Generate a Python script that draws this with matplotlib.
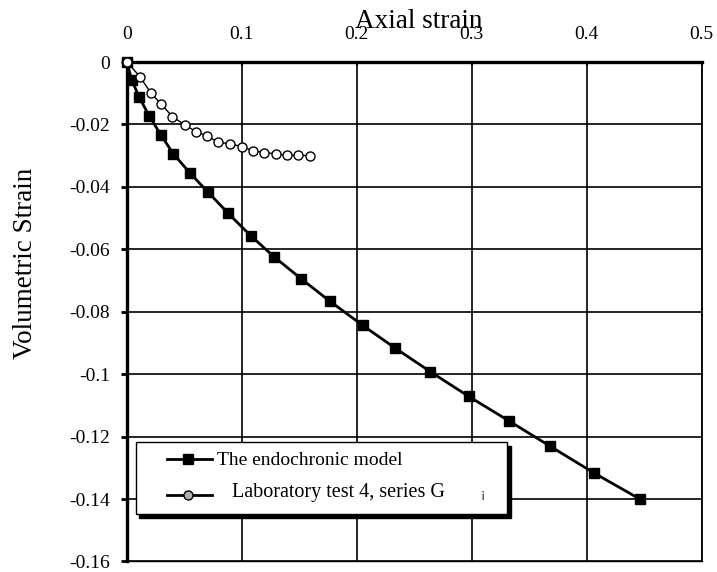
import matplotlib.pyplot as plt
from matplotlib.patches import Rectangle
from matplotlib.lines import Line2D

plt.rcParams['font.family'] = ['Liberation Serif', 'DejaVu Serif']

# endochronic model prediction
model_x = [0.0, 0.0041, 0.0107, 0.0192, 0.0296, 0.0403, 0.0549, 0.0708, 0.0882,
           0.1078, 0.1280, 0.1518, 0.1768, 0.2053, 0.2332, 0.2640, 0.2973,
           0.3321, 0.3679, 0.4062, 0.4463]
model_y = [0.0, -0.0058, -0.0113, -0.0172, -0.0234, -0.0294, -0.0356, -0.0418,
           -0.0485, -0.0557, -0.0624, -0.0695, -0.0767, -0.0844, -0.0916,
           -0.0992, -0.1071, -0.1149, -0.1230, -0.1316, -0.1400]

# laboratory test 4, series G
lab_x = [0.0, 0.0113, 0.0209, 0.0296, 0.0395, 0.0505, 0.0601, 0.0694, 0.0795,
         0.0897, 0.0999, 0.1095, 0.1193, 0.1295, 0.1396, 0.1492, 0.1594]
lab_y = [0.0, -0.0047, -0.0100, -0.0134, -0.0175, -0.0202, -0.0223, -0.0237,
         -0.0257, -0.0262, -0.0271, -0.0284, -0.0290, -0.0294, -0.0299,
         -0.0299, -0.0300]

xticks = [0, 0.1, 0.2, 0.3, 0.4, 0.5]
xtick_labels = ['0', '0.1', '0.2', '0.3', '0.4', '0.5']
yticks = [0, -0.02, -0.04, -0.06, -0.08, -0.1, -0.12, -0.14, -0.16]
ytick_labels = ['0', '-0.02', '-0.04', '-0.06', '-0.08', '-0.1', '-0.12', '-0.14', '-0.16']

fig = plt.figure(figsize=(7.17, 5.72), dpi=100)
ax = fig.add_axes([0.1771, 0.0184, 0.8013, 0.8732])

ax.plot(model_x, model_y, 'k-', lw=2.0, marker='s', ms=6.5, mfc='k', mec='k',
        clip_on=False, zorder=3)
ax.plot(lab_x, lab_y, 'k-', lw=1.0, marker='o', ms=6.5, mfc='white', mec='k',
        mew=1.0, clip_on=False, zorder=4)

ax.set_xlim(0, 0.5)
ax.set_ylim(-0.16, 0)
ax.set_xticks(xticks)
ax.set_xticklabels(xtick_labels)
ax.set_yticks(yticks)
ax.set_yticklabels(ytick_labels)

ax.xaxis.tick_top()
ax.tick_params(axis='x', direction='in', length=3, width=1.5, pad=14, labelsize=14)
ax.tick_params(axis='y', direction='out', length=4, width=2, pad=8, labelsize=14)
ax.grid(True, color='k', lw=1.2)
ax.set_axisbelow(True)

ax.spines['top'].set_linewidth(2.4)
ax.spines['left'].set_linewidth(2.4)
ax.spines['right'].set_linewidth(1.3)
ax.spines['bottom'].set_linewidth(1.0)

fig.text(0.5845, 0.951, 'Axial strain', fontsize=19.5, ha='center', va='baseline')
fig.text(0.036, 0.54, 'Volumetric Strain', fontsize=19.5, rotation=90,
         ha='center', va='center')

# boxed legend with a drop shadow
leg = fig.add_axes([0.1897, 0.1014, 0.5181, 0.1264], zorder=5)
leg.set_xlim(0, 1)
leg.set_ylim(0, 1)
leg.axis('off')
leg.add_patch(Rectangle((0.009, -0.06), 1.0, 1.0, facecolor='k', edgecolor='k',
                        clip_on=False))
leg.add_patch(Rectangle((0, 0), 1.0, 1.0, facecolor='white', edgecolor='k',
                        lw=1.0, clip_on=False))
leg.add_line(Line2D([0.083, 0.204], [0.757, 0.757], color='k', lw=2.0,
                    clip_on=False))
leg.add_line(Line2D([0.14], [0.757], color='k', marker='s', ms=6.5,
                    clip_on=False))
leg.add_line(Line2D([0.083, 0.204], [0.263, 0.263], color='k', lw=2.0,
                    clip_on=False))
leg.add_line(Line2D([0.14], [0.263], color='k', marker='o', ms=6.5, mfc='#b0b0b0',
                    mec='k', mew=1.0, clip_on=False))
leg.text(0.218, 0.678, 'The endochronic model', fontsize=14, va='baseline')
leg.text(0.258, 0.231, 'Laboratory test 4, series G', fontsize=14.5, va='baseline')
leg.text(0.929, 0.231, '¡', fontsize=9, va='baseline')

fig.savefig('out.png', dpi=100)
